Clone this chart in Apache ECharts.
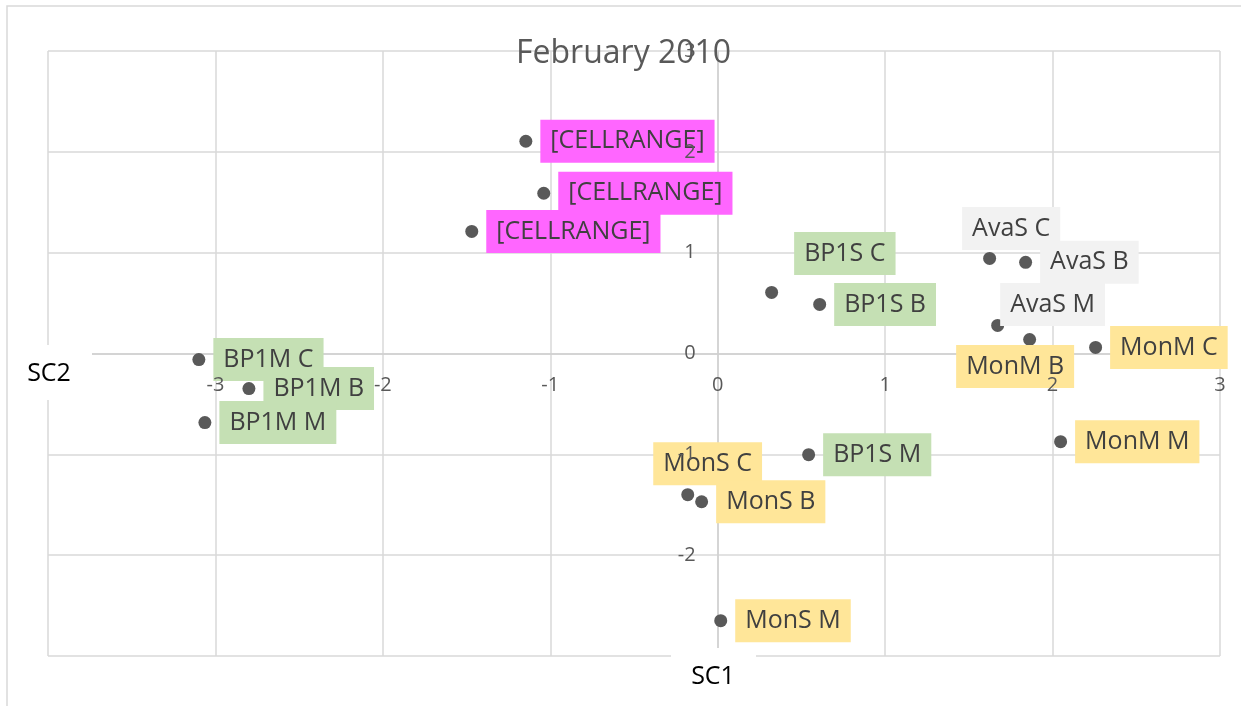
<!DOCTYPE html>
<html>
<head>
<meta charset="utf-8">
<script src="https://cdn.jsdelivr.net/npm/echarts@6/dist/echarts.min.js"></script>
<style>
  html, body { margin: 0; padding: 0; background: #fff; }
  #chart { width: 1241px; height: 706px; }
</style>
</head>
<body>
<div id="chart"></div>
<script>
// point names, SC1 (x) and SC2 (y) scores, label group
var names = [
  "[CELLRANGE]", "[CELLRANGE]", "[CELLRANGE]",
  "AvaS C", "AvaS B", "AvaS M",
  "MonM B", "MonM C", "MonM M",
  "BP1S C", "BP1S B", "BP1S M",
  "BP1M C", "BP1M B", "BP1M M",
  "MonS C", "MonS B", "MonS M"
];
var sc1 = [
  -1.146, -1.039, -1.469,
  1.624, 1.839, 1.672,
  1.863, 2.257, 2.048,
  0.322, 0.609, 0.543,
  -3.099, -2.800, -3.063,
  -0.179, -0.096, 0.018
];
var sc2 = [
  2.105, 1.589, 1.211,
  0.943, 0.904, 0.278,
  0.139, 0.060, -0.874,
  0.606, 0.487, -1.003,
  -0.060, -0.348, -0.685,
  -1.400, -1.470, -2.650
];
var groups = [
  "cell", "cell", "cell",
  "ava", "ava", "ava",
  "mon", "mon", "mon",
  "bp", "bp", "bp",
  "bp", "bp", "bp",
  "mon", "mon", "mon"
];

// label box colours and hand-moved label offsets (layout only)
var groupColors = { cell: "#ff66ff", ava: "#f2f2f2", mon: "#ffe699", bp: "#c5e0b4" };
var labelOffsets = {
  3: [-42, -30],
  5: [-12, -21],
  6: [-88, 27],
  9: [8, -39],
  15: [-49, -31]
};

var gridLeft = 48, gridRight = 21, gridTop = 51, gridBottom = 50;
var xMin = -4, xMax = 3, yMin = -3, yMax = 3;
var plotW = 1241 - gridLeft - gridRight;
var plotH = 706 - gridTop - gridBottom;
// axes cross at zero
var xOffset = -plotH * (0 - yMin) / (yMax - yMin);
var yOffset = -plotW * (0 - xMin) / (xMax - xMin);

var myChart = echarts.init(document.getElementById("chart"));

var points = names.map(function (n, i) {
  return {
    name: n,
    value: [sc1[i], sc2[i]],
    label: { backgroundColor: groupColors[groups[i]] }
  };
});

var axisText = { color: "#595959", fontSize: 20, fontFamily: "Open Sans", margin: 22 };

// lines + grid (below the points)
function baseAxis(min, max, pos, off) {
  return {
    type: "value", min: min, max: max, interval: 1, position: pos, offset: off,
    axisLine: { onZero: false, lineStyle: { color: "#d0d0d0", width: 1.5 } },
    axisTick: { show: false },
    axisLabel: { show: false },
    splitLine: { lineStyle: { color: "#d9d9d9", width: 1.5 } },
    z: 0
  };
}
// tick labels only (above the data labels, as in the original)
function labelAxis(min, max, pos, off) {
  return {
    type: "value", min: min, max: max, interval: 1, position: pos, offset: off,
    axisLine: { show: false, onZero: false },
    axisTick: { show: false },
    axisLabel: axisText,
    splitLine: { show: false },
    z: 20
  };
}

var option = {
  animation: false,
  title: {
    text: "February 2010",
    left: 511,
    top: 33,
    textStyle: { color: "#595959", fontSize: 32, fontWeight: "normal", fontFamily: "Open Sans" },
    z: 30
  },
  grid: { left: gridLeft, right: gridRight, top: gridTop, bottom: gridBottom },
  xAxis: [
    baseAxis(xMin, xMax, "bottom", xOffset),
    labelAxis(xMin, xMax, "bottom", xOffset)
  ],
  yAxis: [
    baseAxis(yMin, yMax, "left", yOffset),
    labelAxis(yMin, yMax, "left", yOffset)
  ],
  graphic: [
    {
      type: "rect",
      shape: { x: 7, y: 6, width: 1260, height: 720 },
      style: { fill: "none", stroke: "#d9d9d9", lineWidth: 1.5 },
      z: 1
    },
    {
      type: "rect",
      shape: { x: 8, y: 345, width: 84, height: 55 },
      style: { fill: "#fff" },
      z: 100
    },
    {
      type: "text",
      x: 49,
      y: 374,
      style: {
        text: "SC2",
        fill: "#000",
        font: "25px 'Open Sans'",
        align: "center",
        verticalAlign: "middle"
      },
      z: 101
    },
    {
      type: "rect",
      shape: { x: 671, y: 648, width: 85, height: 58 },
      style: { fill: "#fff" },
      z: 100
    },
    {
      type: "text",
      x: 713,
      y: 677,
      style: {
        text: "SC1",
        fill: "#000",
        font: "25px 'Open Sans'",
        align: "center",
        verticalAlign: "middle"
      },
      z: 101
    }
  ],
  series: [
    {
      type: "scatter",
      xAxisIndex: 0,
      yAxisIndex: 0,
      symbolSize: 13,
      itemStyle: { color: "#595959", opacity: 1 },
      data: points,
      z: 5,
      label: {
        show: true,
        position: "right",
        distance: 8,
        formatter: "{b}",
        color: "#404040",
        fontSize: 25,
        fontFamily: "Open Sans",
        lineHeight: 35,
        padding: [4, 10]
      },
      labelLayout: function (params) {
        var o = labelOffsets[params.dataIndex];
        return o ? { dx: o[0], dy: o[1], hideOverlap: false } : { hideOverlap: false };
      },
      emphasis: { disabled: true }
    }
  ]
};

myChart.setOption(option);
window.addEventListener("resize", function () {
  myChart.resize();
});
</script>
</body>
</html>
